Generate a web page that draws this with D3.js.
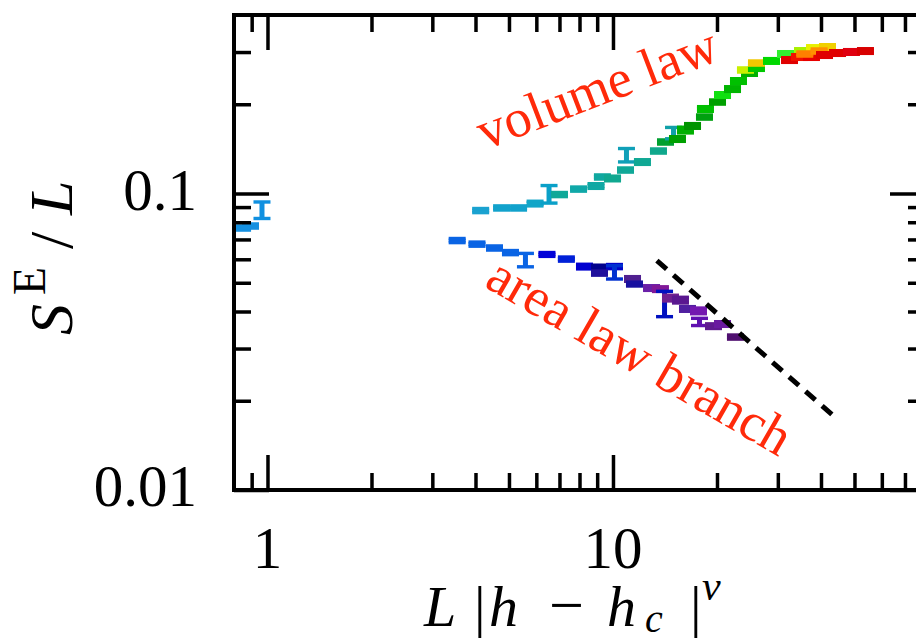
<!DOCTYPE html>
<html><head><meta charset="utf-8">
<script src="https://cdn.jsdelivr.net/npm/d3@7"></script>
</head><body style="margin:0"><svg id="c" width="916" height="638"></svg>
<script>
// ---- data ----
const xMajor = [1, 10];
const xMajorLabels = ["1", "10"];
const xMinor = [0.9, 2, 3, 4, 5, 6, 7, 8, 9, 20, 30, 40, 50, 60, 70];
const yMajor = [0.01, 0.1];
const yMajorLabels = ["0.01", "0.1"];
const yMinor = [0.02, 0.03, 0.04, 0.05, 0.06, 0.07, 0.08, 0.09, 0.2, 0.3];

const leftX = [0.847, 0.893, 0.964];
const leftY = [0.0765, 0.0777, 0.088];
const leftErr = [0.016, 0.016, 0.064];
const leftColor = ["#1590e0", "#1590e0", "#1090e0"];

const upperX = [4.14, 4.76, 5.33, 5.95, 6.53, 7.00, 7.95, 8.93, 9.32, 9.97, 10.87, 10.94, 12.17, 13.54, 14.19, 14.97, 15.37, 16.21, 16.99, 18.40, 18.52, 20.07, 20.75, 22.18, 23.08, 24.84, 24.18, 26.02, 26.02, 28.76, 31.57, 35.37, 38.31, 41.77, 32.43, 34.66, 37.54, 35.9, 39.5, 40.95, 44.66, 49.0, 53.8];
const upperY = [0.0876, 0.0894, 0.0894, 0.0925, 0.0996, 0.0992, 0.1035, 0.106, 0.1137, 0.1124, 0.120, 0.1348, 0.1277, 0.1391, 0.1492, 0.160, 0.1527, 0.1637, 0.169, 0.1811, 0.1928, 0.2035, 0.2149, 0.2251, 0.2396, 0.255, 0.261, 0.265, 0.2755, 0.280, 0.2955, 0.3024, 0.3095, 0.312, 0.282, 0.2887, 0.2887, 0.2955, 0.3024, 0.2932, 0.2978, 0.3002, 0.3024];
const upperErr = [0.016, 0.016, 0.016, 0.018, 0.068, 0.016, 0.016, 0.018, 0.016, 0.018, 0.016, 0.052, 0.018, 0.016, 0.016, 0.044, 0.018, 0.022, 0.018, 0.016, 0.018, 0.016, 0.018, 0.018, 0.018, 0.018, 0.016, 0.018, 0.016, 0.018, 0.018, 0.018, 0.018, 0.018, 0.018, 0.018, 0.018, 0.016, 0.016, 0.018, 0.018, 0.018, 0.018];
const upperColor = ["#1aa2d0", "#12a2cc", "#12a2cc", "#12a6c8", "#0aa0c8", "#10a898", "#10a8a8", "#10a8a4", "#10a8a0", "#10a890", "#10a898", "#10a0b8", "#10a894", "#10a88c", "#00a030", "#10a0a8", "#00a000", "#00b000", "#009400", "#00a010", "#00c000", "#00a000", "#10e010", "#00b400", "#00c000", "#00b000", "#c8f000", "#00c800", "#f0c800", "#00d800", "#30f030", "#a8f000", "#e8f000", "#f0d000", "#e00000", "#f01000", "#e80000", "#ff8000", "#ff9000", "#e00000", "#e00000", "#e00010", "#d80000"];

const lowerX = [3.54, 4.04, 4.54, 5.05, 5.58, 6.44, 7.33, 8.27, 9.14, 10.10, 9.14, 10.10, 11.39, 11.54, 12.93, 13.72, 14.10, 14.67, 15.68, 16.43, 17.68, 17.80, 19.54, 20.75, 22.62];
const lowerY = [0.0694, 0.0675, 0.0655, 0.0632, 0.0597, 0.0623, 0.0601, 0.0567, 0.0563, 0.0567, 0.0539, 0.0543, 0.0515, 0.0495, 0.048, 0.0476, 0.0426, 0.0444, 0.0437, 0.0408, 0.0402, 0.0369, 0.0357, 0.0363, 0.0328];
const lowerErr = [0.016, 0.016, 0.016, 0.016, 0.052, 0.015, 0.016, 0.018, 0.018, 0.016, 0.016, 0.052, 0.018, 0.015, 0.018, 0.018, 0.098, 0.022, 0.022, 0.018, 0.022, 0.028, 0.018, 0.018, 0.016];
const lowerColor = ["#0a64e4", "#0a64e4", "#0a64e4", "#0a64e4", "#0a64e4", "#0000d8", "#0020d8", "#0000d0", "#00008c", "#0000c8", "#20109c", "#0030d0", "#502090", "#1810a0", "#6a20a8", "#801898", "#0010c0", "#702090", "#5a1890", "#5020a0", "#7418b0", "#6010b0", "#601a90", "#6a1aa0", "#501070"];

const guideX = [13.4, 44.4];
const guideY = [0.0594, 0.0174];

// ---- chart ----
const svg = d3.select("#c");
const x = d3.scaleLog().domain([0.8, 80]).range([234, 925]);
const y = d3.scaleLog().domain([0.01, 0.4]).range([490, 15]);
const fontNames = ["Liberation Serif"];
const FAM = `"${fontNames[0]}"`;

// text layer first in the document, marks layer drawn after
const textLayer = svg.append("g");
const markLayer = svg.append("g");

function txt(tr, size) {
  return textLayer.append("text").attr("transform", tr)
    .style("font-family", FAM).style("font-size", size + "px");
}

// tick labels
xMajor.forEach((d, i) => {
  txt(`translate(${x(d)},568)`, 59).attr("text-anchor", "middle").text(xMajorLabels[i]);
});
yMajor.forEach((d, i) => {
  txt(`translate(197,${y(d) + 16})`, 59).attr("text-anchor", "end").text(yMajorLabels[i]);
});

// x title
const xt = txt("translate(0,0)", 58);
function xs(sx, sy, t, size, italic) {
  const s = xt.append("tspan").attr("x", sx).attr("y", sy).text(t);
  if (size) s.style("font-size", size + "px");
  if (italic) s.style("font-style", "italic");
}
xs(424, 626, "L", 0, true);
xs(474, 626, "|", 0, false);
xs(489, 626, "h", 0, true);
xs(549, 626, "−", 62, false);
xs(607, 626, "h", 0, true);
xs(645, 632, "c", 40, true);
xs(690, 626, "|", 0, false);
xs(702, 600, "ν", 42, true);

// y title (rotated)
const yt = txt("translate(72,0) rotate(-90)", 62);
function ys(sx, sy, t, size, italic) {
  const s = yt.append("tspan").attr("x", sx).attr("y", sy).text(t);
  if (size) s.style("font-size", size + "px");
  if (italic) s.style("font-style", "italic");
}
ys(-335, 0, "S", 0, true);
ys(-295, -27, "E", 46, false);
ys(-249, 0, "/", 0, false);
ys(-215, 0, "L", 0, true);

// annotations
txt("translate(485,150) rotate(-21)", 54).attr("fill", "#ff2a0a").text("volume law");
txt("translate(483,286) rotate(30)", 54).attr("fill", "#ff2a0a").text("area law branch");

// data marks (error bars)
function pts(X, Y, E, C) { return X.map((v, i) => ({x: v, y: Y[i], e: E[i], c: C[i]})); }
const data = [].concat(pts(leftX, leftY, leftErr, leftColor), pts(lowerX, lowerY, lowerErr, lowerColor), pts(upperX, upperY, upperErr, upperColor));
data.forEach(d => {
  const cx = x(d.x), hi = y(d.y * (1 + d.e)), lo = y(d.y * (1 - d.e));
  const sw = (lo - hi) < 6 ? 17 : 5;
  markLayer.append("rect").attr("x", cx - sw / 2).attr("y", hi).attr("width", sw).attr("height", lo - hi).attr("fill", d.c);
  markLayer.append("rect").attr("x", cx - 8.5).attr("y", hi - 1.7).attr("width", 17).attr("height", 3.4).attr("fill", d.c);
  markLayer.append("rect").attr("x", cx - 8.5).attr("y", lo - 1.7).attr("width", 17).attr("height", 3.4).attr("fill", d.c);
});

// guide line
markLayer.append("path")
  .attr("d", d3.line().x(d => x(d[0])).y(d => y(d[1]))(guideX.map((v, i) => [v, guideY[i]])))
  .attr("fill", "none").attr("stroke", "#000").attr("stroke-width", 5).attr("stroke-dasharray", "13,9");

// axes ticks
function styleAxis(sel) {
  sel.attr("font-family", null).attr("font-size", null);
  sel.select(".domain").remove();
  sel.selectAll("text").remove();
  sel.selectAll("line").attr("stroke", "#000").attr("stroke-width", 3.5);
}
const axes = [
  [d3.axisBottom(x), `translate(0,${y(0.01)})`, xMajor, xMinor],
  [d3.axisTop(x), `translate(0,${y(0.4)})`, xMajor, xMinor],
  [d3.axisLeft(y), `translate(${x(0.8)},0)`, yMajor, yMinor],
  [d3.axisRight(y), `translate(${x(80)},0)`, yMajor, yMinor]
];
axes.forEach(([ax, tr, maj, min]) => {
  markLayer.append("g").attr("transform", tr).call(ax.tickValues(maj).tickSizeInner(-35).tickSizeOuter(0)).call(styleAxis);
  markLayer.append("g").attr("transform", tr).call(ax.tickValues(min).tickSizeInner(-17).tickSizeOuter(0)).call(styleAxis);
});

// frame
markLayer.append("rect").attr("x", x(0.8)).attr("y", y(0.4)).attr("width", x(80) - x(0.8)).attr("height", y(0.01) - y(0.4))
  .attr("fill", "none").attr("stroke", "#000").attr("stroke-width", 4);
</script></body></html>
